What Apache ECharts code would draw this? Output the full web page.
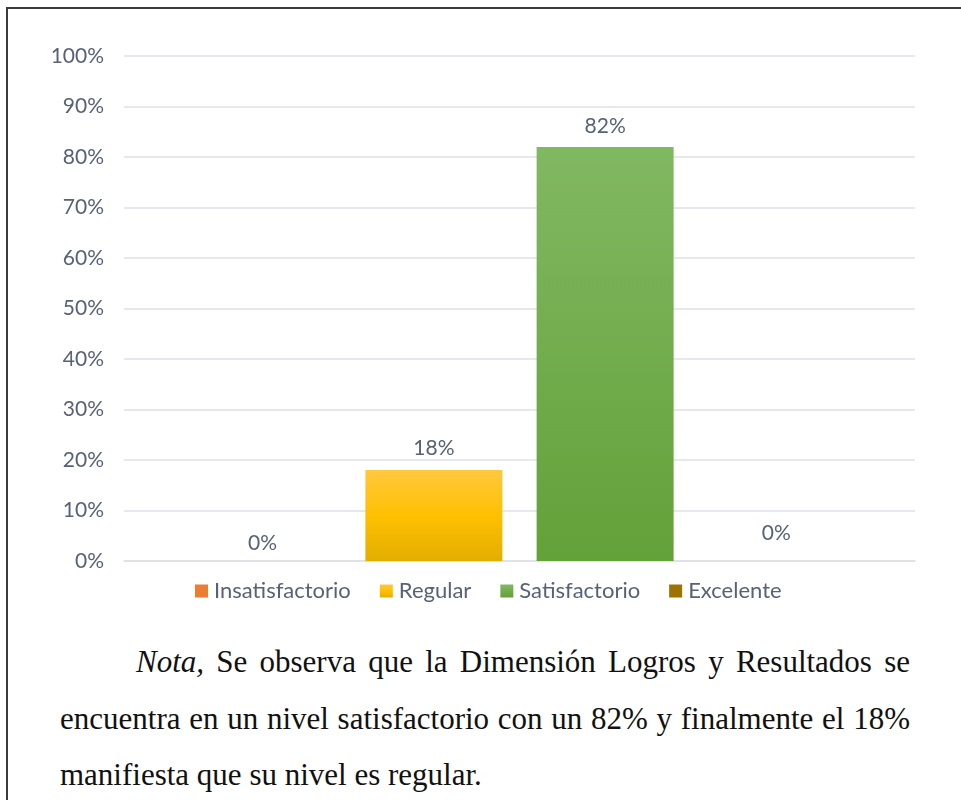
<!DOCTYPE html>
<html>
<head>
<meta charset="utf-8">
<script src="https://cdn.jsdelivr.net/npm/echarts@6/dist/echarts.min.js"></script>
<style>
  html, body { margin: 0; padding: 0; background: #fff; }
  #wrap { position: relative; width: 961px; height: 800px; overflow: hidden; }
  #frame { position: absolute; left: 6px; top: 7px; width: 1000px; height: 900px;
           border-left: 2px solid #3a3a3a; border-top: 2px solid #3a3a3a; }
  #chart { position: absolute; left: 0; top: 0; width: 961px; height: 620px; }
  #nota { position: absolute; left: 60px; top: 634px; width: 850px;
          font-family: "Liberation Serif", "DejaVu Serif", serif; font-size: 31px;
          line-height: 56.5px; color: #111; }
  #nota div { white-space: nowrap; }
  #nota .j { text-align: justify; text-align-last: justify; white-space: normal; }
</style>
</head>
<body>
<div id="wrap">
  <div id="frame"></div>
  <div id="chart"></div>
  <div id="nota">
    <div class="j" style="padding-left:76px"><i>Nota,</i> Se observa que la Dimensión Logros y Resultados se</div>
    <div class="j">encuentra en un nivel satisfactorio con un 82% y finalmente el 18%</div>
    <div>manifiesta que su nivel es regular.</div>
  </div>
</div>
<script>
// datos
var niveles = ['Insatisfactorio', 'Regular', 'Satisfactorio', 'Excelente'];
var valores = [0, 0.18, 0.82, 0];
var ticks = ['0%', '10%', '20%', '30%', '40%', '50%', '60%', '70%', '80%', '90%', '100%'];

var colores = [
	'#ED7D31',
	new echarts.graphic.LinearGradient(0, 0, 0, 1, [{offset: 0, color: '#FFC83F'}, {offset: 0.5, color: '#FFC000'}, {offset: 1, color: '#E2AE00'}]),
	new echarts.graphic.LinearGradient(0, 0, 0, 1, [{offset: 0, color: '#81B862'}, {offset: 1, color: '#63A139'}]),
	'#9C7200'
];
var distancias = [7, 11, 10, 17];
var txt = '#586275';

var myChart = echarts.init(document.getElementById('chart'));
var series = niveles.map(function (n, i) {
	return {
		name: n,
		type: 'bar',
		data: [valores[i]],
		barWidth: 137,
		barGap: '25%',
		itemStyle: { color: colores[i] },
		label: {
			show: true,
			position: 'top',
			distance: distancias[i],
			color: txt,
			fontFamily: 'Lato',
			fontSize: 21,
			formatter: function (p) { return Math.round(p.value * 100) + '%'; }
		}
	};
});

var option = {
	animation: false,
	grid: { left: 124, right: 46, top: 56, height: 505 },
	legend: {
		data: niveles,
		left: 190,
		top: 575,
		itemWidth: 13,
		itemHeight: 13,
		itemGap: 29,
		icon: 'rect',
		textStyle: { color: txt, fontFamily: 'Lato', fontSize: 22, padding: [0, 0, 0, 1] }
	},
	xAxis: {
		type: 'category',
		data: [''],
		axisLine: { lineStyle: { color: '#DDE1E8', width: 1.5 } },
		axisTick: { show: false },
		axisLabel: { show: false }
	},
	yAxis: {
		type: 'value',
		min: 0,
		max: 1,
		interval: 0.1,
		axisLine: { show: false },
		axisTick: { show: false },
		splitLine: { lineStyle: { color: '#DDE1E8', width: 1.5 } },
		axisLabel: {
			margin: 20,
			color: txt,
			fontFamily: 'Lato',
			fontSize: 21,
			formatter: function (v) { return ticks[Math.round(v * 10)]; }
		}
	},
	series: series
};
myChart.setOption(option);
</script>
</body>
</html>
